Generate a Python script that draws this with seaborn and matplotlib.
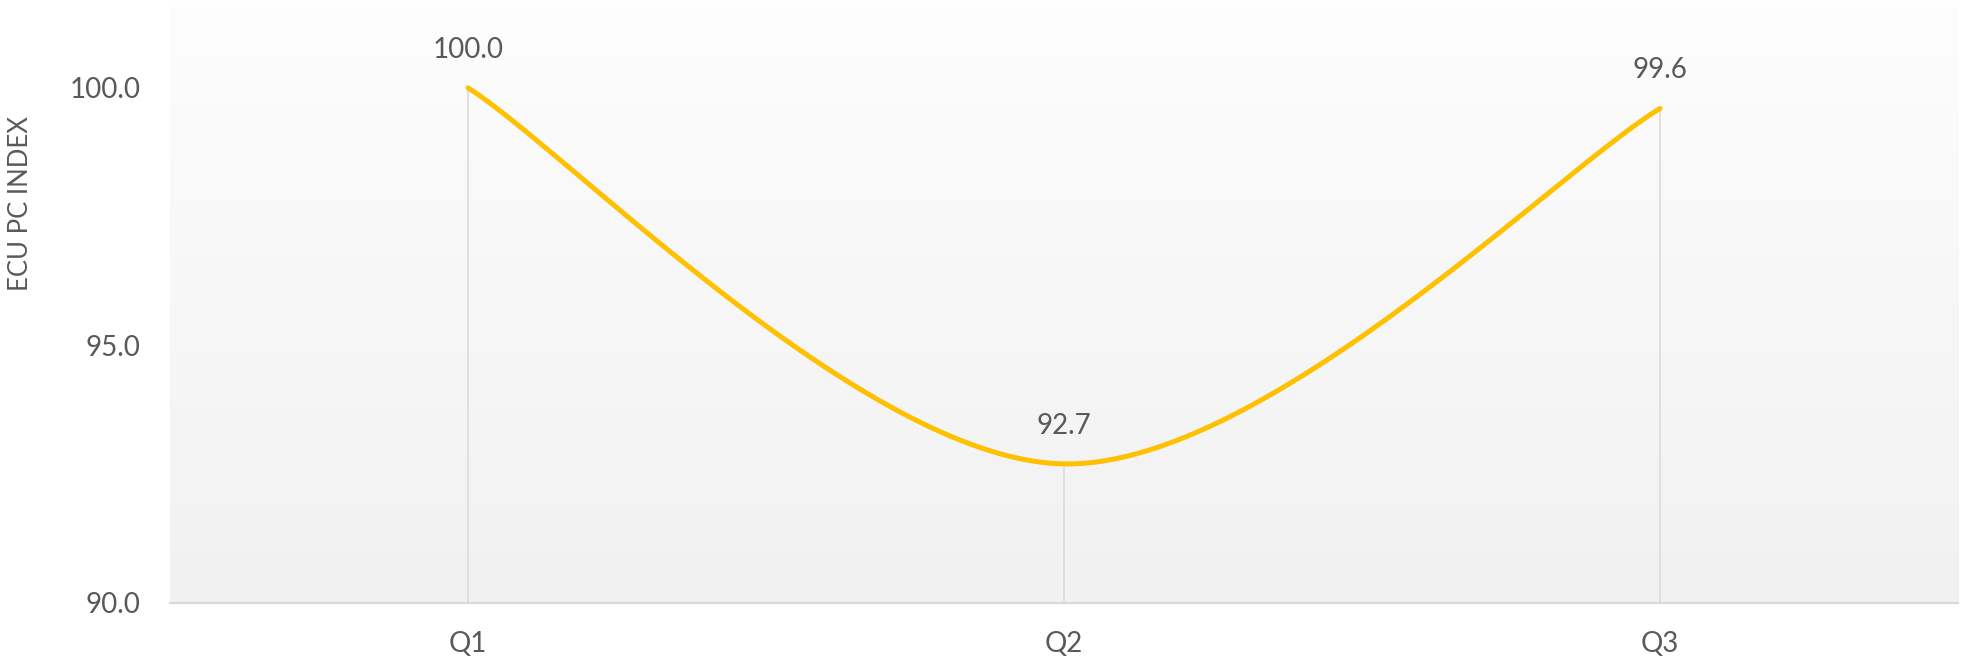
import numpy as np
import pandas as pd
import matplotlib
matplotlib.use("Agg")
import matplotlib.pyplot as plt
import seaborn as sns

# Quarterly ECU PC index
quarters = ["Q1", "Q2", "Q3"]
index_values = [100.0, 92.7, 99.6]
y_ticks = [90.0, 95.0, 100.0]

LINE_COLOR = "#FFC000"
TEXT_COLOR = "#595959"
GRID_COLOR = "#D9D9D9"

sns.set_theme(style="white")
plt.rcParams["font.family"] = ["Lato", "DejaVu Sans"]


def smooth_curve(xs, ys, steps=200):
    """Bezier smoothing through the points (control points from neighbour slopes)."""
    px = np.asarray(xs, dtype=float)
    py = np.asarray(ys, dtype=float)
    n = len(px)
    out_x, out_y = [], []
    for i in range(n - 1):
        p0 = (px[max(i - 1, 0)], py[max(i - 1, 0)])
        p1 = (px[i], py[i])
        p2 = (px[i + 1], py[i + 1])
        p3 = (px[min(i + 2, n - 1)], py[min(i + 2, n - 1)])
        c1 = (p1[0] + (p2[0] - p0[0]) / 6, p1[1] + (p2[1] - p0[1]) / 6)
        c2 = (p2[0] - (p3[0] - p1[0]) / 6, p2[1] - (p3[1] - p1[1]) / 6)
        t = np.linspace(0, 1, steps)
        b0 = (1 - t) ** 3
        b1 = 3 * (1 - t) ** 2 * t
        b2 = 3 * (1 - t) * t ** 2
        b3 = t ** 3
        out_x.append(b0 * p1[0] + b1 * c1[0] + b2 * c2[0] + b3 * p2[0])
        out_y.append(b0 * p1[1] + b1 * c1[1] + b2 * c2[1] + b3 * p2[1])
    return np.concatenate(out_x), np.concatenate(out_y)


df = pd.DataFrame({"quarter": quarters, "index": index_values})
df["pos"] = np.arange(len(df))

sx, sy = smooth_curve(df["pos"], df["index"])
curve = pd.DataFrame({"pos": sx, "index": sy})

fig = plt.figure(figsize=(19.63, 6.58), dpi=100)
ax = fig.add_axes([0.0866, 0.0836, 0.9109, 0.9058])

y_min, y_max = 90.0, 101.57
x_min, x_max = -0.5, 2.5

# Soft vertical gradient behind the plot: light grey at the bottom, near white at the top
grad = np.linspace(0, 1, 256).reshape(-1, 1)
cmap = matplotlib.colors.LinearSegmentedColormap.from_list("bg", ["#F1F1F1", "#FDFDFD"])
ax.imshow(grad, aspect="auto", cmap=cmap, extent=[x_min, x_max, y_min, y_max],
          origin="lower", zorder=0)

# Drop lines from each point to the axis
ax.vlines(df["pos"], y_min, df["index"], color=GRID_COLOR, linewidth=1.1, zorder=1)

sns.lineplot(data=curve, x="pos", y="index", color=LINE_COLOR, linewidth=3.6,
             sort=False, estimator=None, ax=ax, zorder=3)
ax.lines[-1].set_solid_capstyle("round")

for _, row in df.iterrows():
    ax.annotate(f"{row['index']:.1f}", (row["pos"], row["index"]),
                xytext=(0, 27.5), textcoords="offset points",
                ha="center", va="center", fontsize=20, color=TEXT_COLOR)

ax.set_xlim(x_min, x_max)
ax.set_ylim(y_min, y_max)
ax.set_xticks(df["pos"])
ax.set_xticklabels(quarters)
ax.set_yticks(y_ticks)
ax.set_yticklabels([f"{v:.1f}" for v in y_ticks])
ax.tick_params(axis="both", length=0, labelsize=20, colors=TEXT_COLOR)
ax.tick_params(axis="y", pad=21)
ax.tick_params(axis="x", pad=20)

ax.set_xlabel("")
ax.set_ylabel("ECU PC INDEX", fontsize=18.5, color=TEXT_COLOR)
ax.yaxis.set_label_coords(-0.0766, 0.671)

for side in ["top", "right", "left"]:
    ax.spines[side].set_visible(False)
ax.spines["bottom"].set_color(GRID_COLOR)
ax.spines["bottom"].set_linewidth(1.6)
ax.spines["bottom"].set_zorder(2)

fig.savefig("out.png", dpi=100, facecolor="white")
